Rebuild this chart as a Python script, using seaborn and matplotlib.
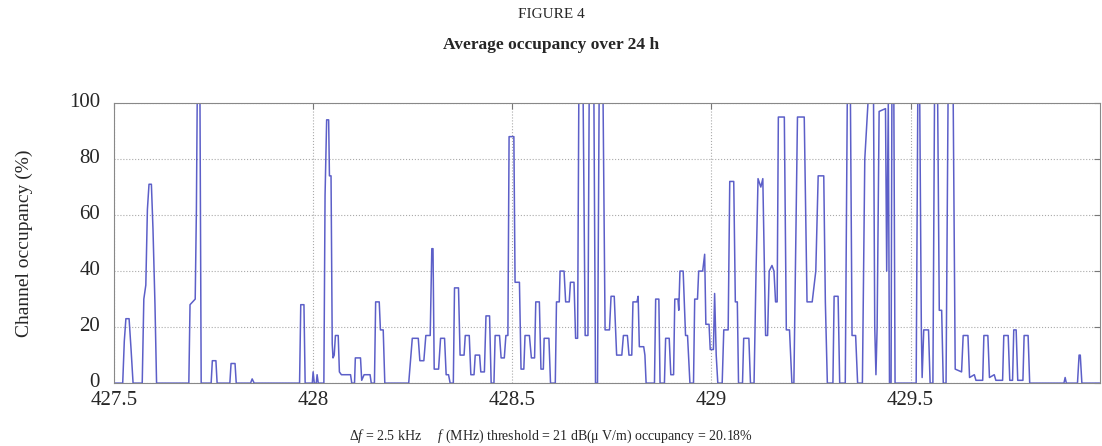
import matplotlib
matplotlib.use("Agg")
import matplotlib.pyplot as plt
import matplotlib.transforms as mtransforms
import seaborn as sns

# Frequency breakpoints (MHz) and channel occupancy (%)
freq = [427.500, 427.522, 427.526, 427.530, 427.538, 427.543, 427.548,
        427.571, 427.575, 427.580, 427.584, 427.588, 427.594, 427.598, 427.603, 427.607,
        427.688, 427.691, 427.704, 427.707, 427.709, 427.716, 427.719,
        427.744, 427.747, 427.756, 427.759, 427.791, 427.794, 427.804, 427.807,
        427.843, 427.847, 427.852, 427.966, 427.969, 427.977, 427.980,
        427.998, 428.000, 428.003, 428.008, 428.010, 428.013,
        428.027, 428.030, 428.034, 428.039, 428.041, 428.045, 428.048, 428.050,
        428.053, 428.056, 428.063, 428.066, 428.071, 428.094, 428.097,
        428.104, 428.106, 428.119, 428.122, 428.128, 428.143, 428.146,
        428.154, 428.157, 428.166, 428.169, 428.176, 428.180,
        428.240, 428.244, 428.249, 428.264, 428.268, 428.278, 428.283, 428.294,
        428.298, 428.301, 428.304, 428.315, 428.320, 428.330, 428.334, 428.340, 428.344,
        428.352, 428.355, 428.365, 428.369, 428.379, 428.382, 428.392, 428.396, 428.404,
        428.407, 428.418, 428.421, 428.430, 428.434, 428.443, 428.447,
        428.454, 428.457, 428.468, 428.472, 428.480, 428.484, 428.489,
        428.492, 428.504, 428.507, 428.518, 428.522, 428.529, 428.532, 428.543,
        428.548, 428.556, 428.559, 428.568, 428.572, 428.578, 428.580, 428.592, 428.596,
        428.608, 428.611, 428.618, 428.620, 428.630, 428.634, 428.643, 428.646, 428.655,
        428.659, 428.664, 428.667, 428.678, 428.683, 428.690, 428.693, 428.705, 428.709,
        428.714, 428.718, 428.728, 428.733, 428.744, 428.748, 428.756, 428.762, 428.775,
        428.779, 428.789, 428.793, 428.800, 428.803, 428.813, 428.816, 428.819, 428.830,
        428.833, 428.836, 428.857, 428.860, 428.868, 428.871,
        428.882, 428.885, 428.894, 428.898, 428.905, 428.908, 428.916, 428.918, 428.921, 428.929,
        428.935, 428.940, 428.946, 428.955, 428.958, 428.965, 428.968, 428.978, 428.983,
        428.986, 428.994, 428.997, 429.005, 429.008, 429.012, 429.016,
        429.027, 429.031, 429.042, 429.046, 429.056, 429.060, 429.065, 429.068,
        429.078, 429.081, 429.094, 429.098, 429.107, 429.112, 429.117, 429.124, 429.129,
        429.133, 429.136, 429.141, 429.145, 429.152, 429.157, 429.161, 429.165, 429.168, 429.183,
        429.188, 429.196, 429.202, 429.207, 429.216, 429.233, 429.240, 429.249, 429.253,
        429.262, 429.268, 429.282, 429.286, 429.291, 429.305, 429.308, 429.318, 429.322,
        429.336, 429.341, 429.349, 429.353, 429.362, 429.367, 429.379, 429.385, 429.393, 429.407,
        429.410, 429.413, 429.416, 429.421, 429.437, 429.440, 429.444, 429.447, 429.451, 429.453,
        429.458, 429.461, 429.514, 429.518, 429.523, 429.527, 429.529, 429.533, 429.545, 429.549,
        429.556, 429.560, 429.568, 429.572, 429.578, 429.582, 429.589, 429.594, 429.607,
        429.612, 429.628, 429.632, 429.644, 429.648, 429.660, 429.664, 429.681, 429.684, 429.694,
        429.698, 429.710, 429.714, 429.731, 429.734, 429.745, 429.749, 429.756, 429.759, 429.765,
        429.769, 429.782, 429.785, 429.795, 429.799, 429.885, 429.888, 429.891,
        429.919, 429.923, 429.926, 429.930, 429.975]
occ = [0, 0, 15, 23, 23, 12, 0,
       0, 30, 35, 62, 71, 71, 55, 28, 0,
       0, 28, 30, 62, 100, 100, 0,
       0, 8, 8, 0, 0, 7, 7, 0,
       0, 1.5, 0, 0, 28, 28, 0,
       0, 4, 0, 0, 3, 0,
       0, 67, 94, 94, 74, 74, 14, 9,
       10, 17, 17, 4, 3, 3, 0,
       0, 9, 9, 1, 3, 3, 0,
       0, 29, 29, 19, 19, 0,
       0, 7, 16, 16, 8, 8, 17, 17,
       48, 48, 5, 5, 16, 16, 3, 3, 0,
       0, 34, 34, 10, 10, 17, 17, 3, 3,
       10, 10, 4, 4, 24, 24, 0,
       0, 17, 17, 9, 9, 17, 17,
       88, 88, 36, 36, 5, 5, 17, 17,
       9, 9, 29, 29, 5, 5, 16, 16, 0,
       0, 29, 29, 40, 40, 29, 29, 36, 36,
       16, 16, 100, 100, 17, 17, 100, 100, 0,
       0, 100, 100, 19, 19, 31, 31, 10, 10,
       17, 17, 10, 10, 29, 29, 31, 13, 13,
       10, 0, 0, 30, 30, 0,
       0, 16, 16, 3, 3, 30, 30, 26, 40, 40,
       17, 17, 0, 0, 30, 30, 40, 40, 46,
       21, 21, 12, 12, 32, 10, 0,
       0, 19, 19, 72, 72, 29, 29, 0,
       0, 16, 16, 0, 0, 40, 73, 70, 73,
       40, 17, 17, 40, 42, 40, 29, 29, 95, 95,
       19, 19, 0, 0, 95, 95, 29, 29, 29,
       40, 74, 74, 29, 0, 0, 31, 31, 0,
       0, 100, 100, 17, 17, 0, 0, 80, 100, 100,
       20, 3, 20, 97, 98, 40, 100, 0, 0, 100,
       100, 0, 0, 100, 100, 19, 2, 19, 19, 0,
       0, 100, 100, 26, 26, 0, 0, 100, 100,
       5, 4, 17, 17, 2, 3, 1, 1, 17, 17,
       2, 3, 1, 1, 17, 17, 1, 1, 19, 19,
       1, 1, 17, 17, 0, 0, 2, 0,
       0, 10, 10, 0, 0]

xtick_vals = [427.5, 428, 428.5, 429, 429.5]
xtick_labels = ["427.5", "428", "428.5", "429", "429.5"]
ytick_vals = [0, 20, 40, 60, 80, 100]

sns.set_style("white")
plt.rcParams['font.family'] = ['Liberation Serif', 'DejaVu Serif']
plt.rcParams['mathtext.fontset'] = 'custom'
plt.rcParams['mathtext.rm'] = 'Liberation Serif'
plt.rcParams['mathtext.it'] = 'Liberation Serif:italic'

fig = plt.figure(figsize=(11.02, 4.46), dpi=100)
ax = fig.add_axes([0.1034, 0.141, 0.8946, 0.628])

sns.lineplot(x=freq, y=occ, estimator=None, sort=False, color="#5c5fc8",
             linewidth=1.1, ax=ax)

ax.set_xlim(427.5, 429.975)
ax.set_ylim(0, 100)
ax.set_xticks(xtick_vals)
ax.set_xticklabels(xtick_labels)
ax.set_yticks(ytick_vals)
ax.tick_params(direction='in', length=4, top=True, right=True,
               labelsize=15, color='#777777')
ax.tick_params(axis='x', pad=6)
ax.tick_params(axis='y', pad=10)
ax.grid(True, linestyle=':', color='#aaaaaa', linewidth=0.8)
for s in ax.spines.values():
    s.set_color('#888888')

# nudge y tick labels up a little, as in the original
shift = mtransforms.ScaledTranslation(0, 3 / 100, fig.dpi_scale_trans)
for lab in ax.get_yticklabels():
    lab.set_transform(lab.get_transform() + shift)

ax.set_ylabel("Channel occupancy (%)", fontsize=14)
ax.yaxis.set_label_coords(-0.082, 0.5)

fig.text(0.5, 1 - 14 / 446, "FIGURE 4", ha='center', va='center', fontsize=11)
fig.text(0.5, 1 - 45 / 446, "Average occupancy over 24 h", ha='center',
         va='center', fontsize=12.5, weight='bold')
fig.text(551 / 1102, 1 - 436 / 446,
         "Δ$f$ = 2.5 kHz     $f$ (MHz) threshold = 21 dB(μ V/m) occupancy = 20.18%",
         ha='center', va='center', fontsize=10)

fig.savefig("out.png", dpi=100)
